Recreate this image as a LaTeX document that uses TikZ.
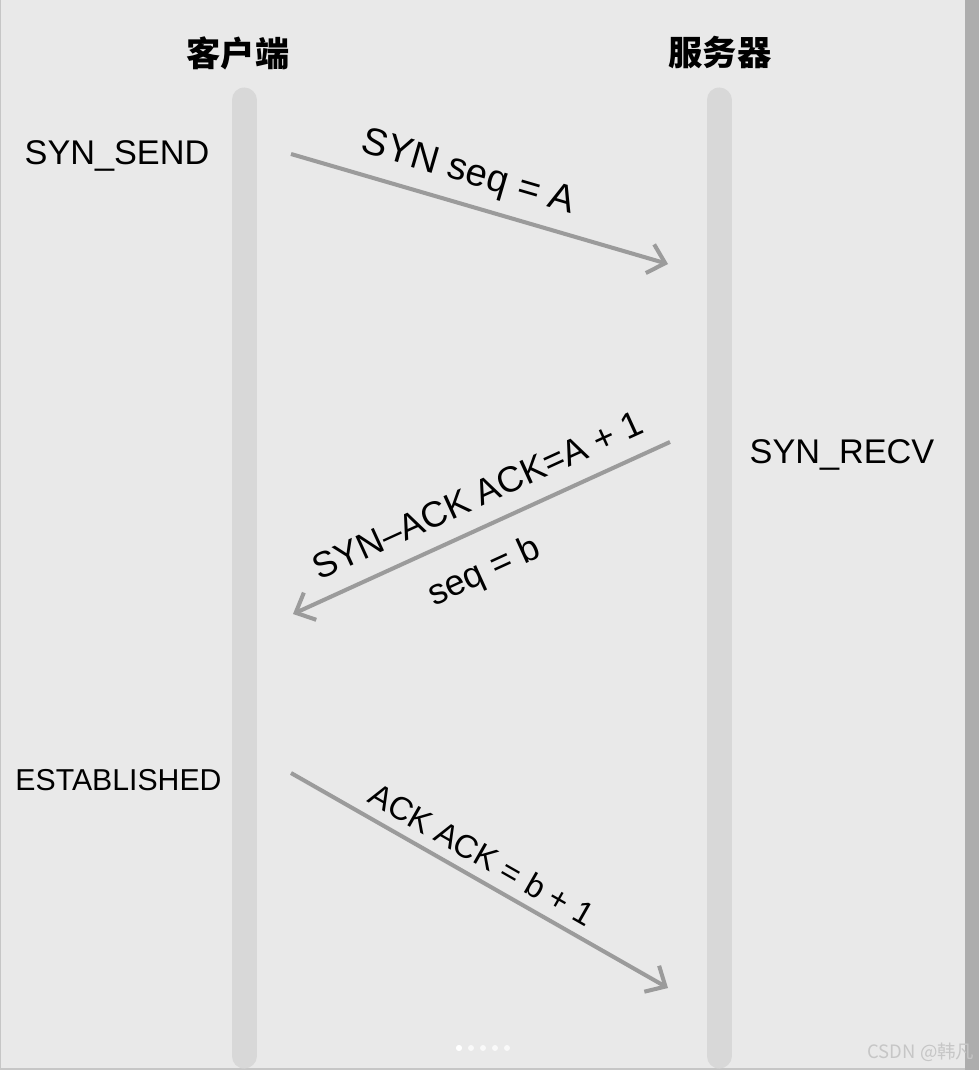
\documentclass[tikz,border=0pt]{standalone}
\usepackage{fontspec}
\setmainfont{Liberation Sans}
\newfontfamily\cjk{Noto Sans CJK SC}
\usetikzlibrary{arrows.meta}

\definecolor{bgcol}{HTML}{E9E9E9}
\definecolor{barcol}{HTML}{D8D8D8}
\definecolor{msgcol}{HTML}{9B9B9B}
\definecolor{edgecol}{HTML}{ADADAD}
\definecolor{markcol}{HTML}{C6C6C6}

\begin{document}
\begin{tikzpicture}[
    x=0.02cm, y=-0.02cm,
    title/.style={font=\cjk\bfseries\fontsize{19.5}{22}\selectfont},
    state/.style={anchor=base, font=\fontsize{19.5}{22}\selectfont},
    lifeline/.style={draw=barcol, line width=0.5cm, line cap=round},
    msg/.style={draw=msgcol, line width=2.3pt, -{Straight Barb[length=9pt,width=17pt]}},
    msglabel/.style={sloped, font=\fontsize{20.5}{24}\selectfont}
]
    % page
    \fill[bgcol] (0,0) rectangle (979,1070);
    \useasboundingbox (0,0) rectangle (979,1070);
    \fill[edgecol] (965,0) rectangle (979,1070);
    \draw[markcol, line width=0.6pt] (0.5,0) -- (0.5,1070);
    \draw[markcol, line width=0.8pt] (0,1069) -- (965,1069);

    % lifelines
    \coordinate (cltop) at (244,100);
    \coordinate (clbot) at (244,1056);
    \coordinate (svtop) at (719,100);
    \coordinate (svbot) at (719,1056);
    \draw[lifeline] (cltop) -- (clbot);
    \draw[lifeline] (svtop) -- (svbot);

    \node[title] (client) at (238,53) {客户端};
    \node[title] (server) at (720,53) {服务器};

    % states
    \node[state] (synsend) at (117,165) {SYN\_SEND};
    \node[state] (synrecv) at (842,463) {SYN\_RECV};
    \node[state, font=\fontsize{17.2}{20}\selectfont] (estab) at (118.5,790) {ESTABLISHED};

    % messages
    \coordinate (syn1) at (291,154);
    \coordinate (syn2) at (668,264);
    \coordinate (sack1) at (670,442);
    \coordinate (sack2) at (293,614);
    \coordinate (ack1) at (291,773);
    \coordinate (ack2) at (668,988);

    \draw[msg] (syn1) -- node[msglabel, pos=0.447, yshift=17.5pt, font=\fontsize{21.8}{25}\selectfont] {SYN seq = A} (syn2);
    \draw[msg] (sack1) -- node[msglabel, pos=0.475, yshift=18pt] {SYN--ACK ACK=A + 1}
        node[msglabel, pos=0.538, yshift=-24pt] {seq = b} (sack2);
    \draw[msg] (ack1) -- node[msglabel, pos=0.475, yshift=13.5pt, font=\fontsize{18.5}{22}\selectfont] {ACK ACK = b + 1} (ack2);

    % page dots and mark
    \foreach \i in {0,...,4}
        \fill[white, opacity=0.75] (459+12*\i,1048) circle (3);
    \fill[white] (459,1048) circle (3);
    \node[font=\cjk\fontsize{10.5}{12}\selectfont, text=markcol] (mark) at (921,1052) {CSDN @韩凡};
\end{tikzpicture}
\end{document}
